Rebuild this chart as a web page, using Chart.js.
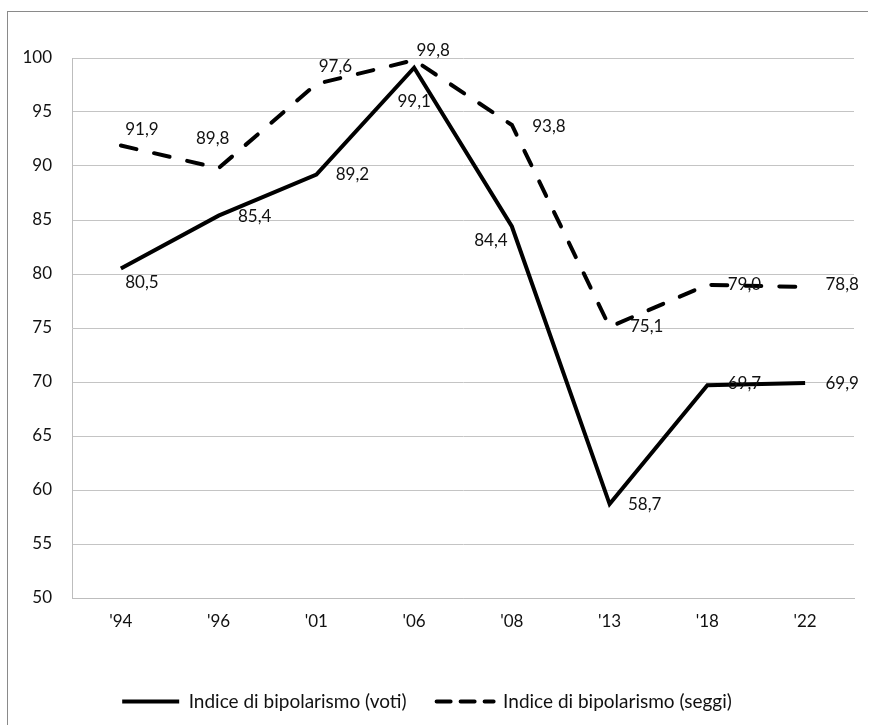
<!DOCTYPE html>
<html>
<head>
<meta charset="utf-8">
<script src="https://cdn.jsdelivr.net/npm/chart.js@4.4.0/dist/chart.umd.min.js"></script>
<style>
  html, body { margin: 0; padding: 0; background: #fff; overflow: hidden; }
  body { position: relative; width: 869px; height: 726px; }
  .frame { position: absolute; left: 7px; top: 11px; width: 860px; height: 713px; border-top: 1px solid #8a8a8a; border-left: 1px solid #8a8a8a; }
  canvas { position: absolute; left: 0; top: 0; }
</style>
</head>
<body>
<div class="frame"></div>
<canvas id="bipChart" width="869" height="726"></canvas>
<script>
// election years
const years = ["'94", "'96", "'01", "'06", "'08", "'13", "'18", "'22"];
// index of bipolarism
const voti = [80.5, 85.4, 89.2, 99.1, 84.4, 58.7, 69.7, 69.9];
const seggi = [91.9, 89.8, 97.6, 99.8, 93.8, 75.1, 79.0, 78.8];
const yTicks = [50, 55, 60, 65, 70, 75, 80, 85, 90, 95, 100];

// where each value label sits relative to its point (px)
const votiLabelOffsets = [[21, 14], [36, 1], [36, 0], [0, 34], [-21, 14], [35, 0], [37, -2], [37, 0]];
const seggiLabelOffsets = [[21, -16], [-6, -30], [19, -17], [19, -10], [37, 2], [37, 0], [37, 0], [37, -2]];

const FONT = 'Lato, "Open Sans", sans-serif';

// draws the values as text next to the points
const valueLabels = {
  id: 'valueLabels',
  afterDatasetsDraw(chart) {
    const ctx = chart.ctx;
    ctx.save();
    ctx.font = '17px ' + FONT;
    ctx.fillStyle = '#111';
    ctx.textAlign = 'center';
    ctx.textBaseline = 'middle';
    chart.data.datasets.forEach((ds, di) => {
      const meta = chart.getDatasetMeta(di);
      meta.data.forEach((pt, i) => {
        const off = ds.labelOffsets[i];
        const txt = ds.data[i].toFixed(1).replace('.', ',');
        ctx.fillText(txt, pt.x + off[0], pt.y + off[1]);
      });
    });
    ctx.restore();
  }
};

const ctx = document.getElementById('bipChart').getContext('2d');
const bipChart = new Chart(ctx, {
  type: 'line',
  data: {
    labels: years,
    datasets: [{
      label: 'Indice di bipolarismo (voti)',
      data: voti,
      labelOffsets: votiLabelOffsets,
      borderColor: '#000',
      backgroundColor: '#000',
      borderWidth: 4,
      pointRadius: 0,
      tension: 0,
      fill: false
    }, {
      label: 'Indice di bipolarismo (seggi)',
      data: seggi,
      labelOffsets: seggiLabelOffsets,
      borderColor: '#000',
      backgroundColor: '#000',
      borderWidth: 4,
      borderDash: [16, 18],
      borderCapStyle: 'round',
      pointRadius: 0,
      tension: 0,
      fill: false
    }]
  },
  options: {
    responsive: false,
    animation: false,
    devicePixelRatio: 1,
    layout: { padding: { top: 58, right: 15, bottom: 5, left: 0 } },
    plugins: {
      tooltip: { enabled: false },
      legend: {
        position: 'bottom',
        labels: {
          usePointStyle: true,
          pointStyle: 'line',
          pointStyleWidth: 57,
          boxHeight: 19,
          padding: 30,
          color: '#111',
          font: { family: FONT, size: 19 },
          generateLabels(chart) {
            const items = Chart.defaults.plugins.legend.labels.generateLabels(chart);
            items.forEach(it => {
              const ds = chart.data.datasets[it.datasetIndex];
              it.lineDash = ds.borderDash ? [14, 10] : [];
              it.lineCap = ds.borderDash ? 'round' : 'butt';
              it.lineWidth = 4;
            });
            return items;
          }
        }
      }
    },
    scales: {
      x: {
        offset: true,
        grid: { display: false, drawTicks: false },
        border: { color: '#bdbdbd', width: 1 },
        ticks: { color: '#111', padding: 13, font: { family: FONT, size: 17 } },
        afterFit(scale) { scale.height = 64; }
      },
      y: {
        min: 50,
        max: 100,
        afterBuildTicks(scale) { scale.ticks = yTicks.map(v => ({ value: v })); },
        grid: { color: '#c4c4c4', drawTicks: false },
        border: { color: '#bdbdbd', width: 1 },
        ticks: { color: '#111', padding: 20, font: { family: FONT, size: 17 } },
        afterFit(scale) { scale.width = 72; }
      }
    }
  },
  plugins: [valueLabels]
});
</script>
</body>
</html>
